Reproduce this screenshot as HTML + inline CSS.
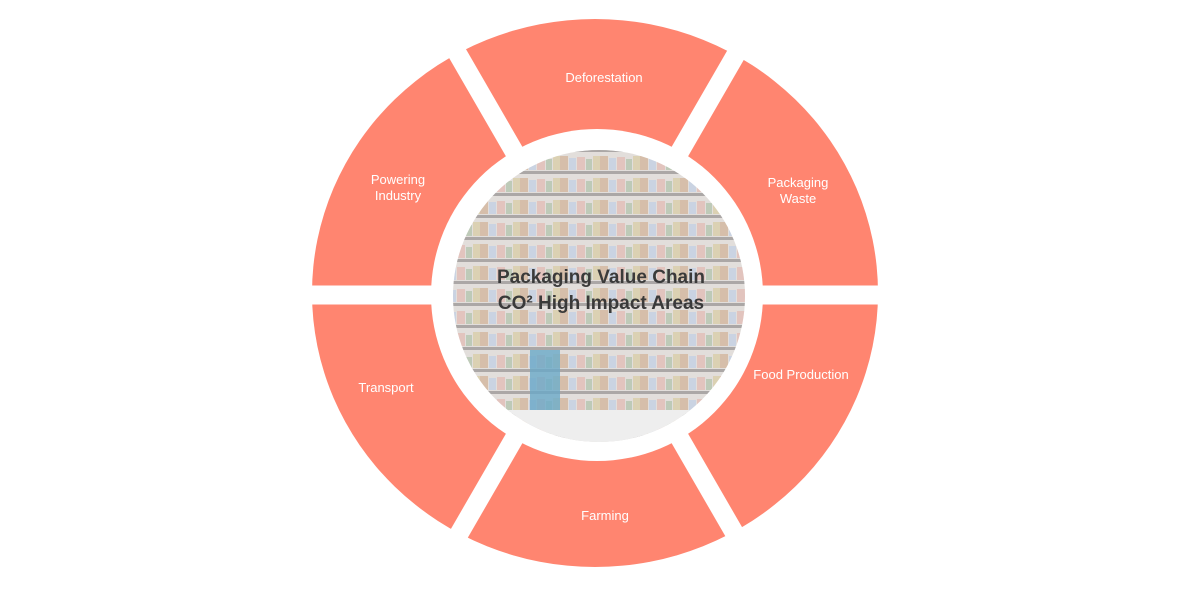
<!DOCTYPE html>
<html><head><meta charset="utf-8"><style>
html,body{margin:0;padding:0;background:#fff;}
svg{display:block;}
text{font-family:"Liberation Sans",sans-serif;}
</style></head><body>
<svg width="1182" height="590" viewBox="0 0 1182 590" xmlns="http://www.w3.org/2000/svg">
<defs>
<pattern id="shelf" width="40" height="22" patternUnits="userSpaceOnUse">
<rect width="40" height="22" fill="#d9d3cf"/>
<rect x="0" y="2" width="8" height="14" fill="#c9a98e"/>
<rect x="9" y="4" width="7" height="12" fill="#b8c4d8"/>
<rect x="17" y="3" width="8" height="13" fill="#d8b0a8"/>
<rect x="26" y="5" width="6" height="11" fill="#a8b9a0"/>
<rect x="33" y="2" width="7" height="14" fill="#cfc29a"/>
<rect x="0" y="17" width="40" height="3" fill="#8f8a88"/>
</pattern>
<clipPath id="cc"><circle cx="599" cy="296" r="146"/></clipPath>
</defs>
<ellipse cx="595" cy="293" rx="283" ry="274" fill="#FF8570"/>
<circle cx="597" cy="295" r="166" fill="#fff"/>
<g stroke="#fff" stroke-width="19">
<line x1="300" y1="295" x2="890" y2="295"/>
<line x1="597" y1="295" x2="757" y2="18"/>
<line x1="597" y1="295" x2="437" y2="18"/>
<line x1="597" y1="295" x2="757" y2="572"/>
<line x1="597" y1="295" x2="437" y2="572"/>
</g>
<circle cx="599" cy="296" r="146" fill="url(#shelf)"/>
<g clip-path="url(#cc)">
<rect x="450" y="150" width="300" height="300" fill="#fff" opacity="0.25"/>
<rect x="530" y="350" width="30" height="60" fill="#6aa9c8" opacity="0.8"/>
<rect x="450" y="410" width="300" height="40" fill="#eeeeee"/>
</g>
<text x="601" y="283" font-size="19" font-weight="bold" fill="#3a3a3a" text-anchor="middle">Packaging Value Chain</text>
<text x="601" y="309" font-size="19" font-weight="bold" fill="#3a3a3a" text-anchor="middle">CO² High Impact Areas</text>
<g fill="#fff" font-size="13" text-anchor="middle">
<text x="604" y="82">Deforestation</text>
<text x="798" y="187">Packaging</text>
<text x="798" y="203">Waste</text>
<text x="801" y="379">Food Production</text>
<text x="605" y="520">Farming</text>
<text x="386" y="392">Transport</text>
<text x="398" y="184">Powering</text>
<text x="398" y="200">Industry</text>
</g>
</svg>
</body></html>
